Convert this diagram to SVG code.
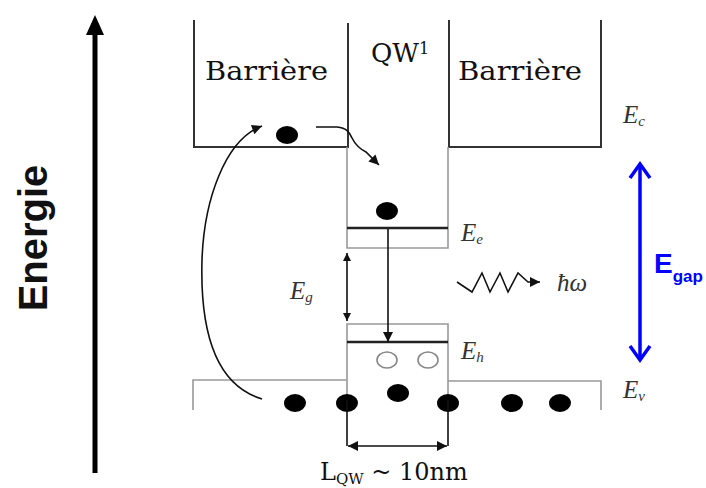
<svg xmlns="http://www.w3.org/2000/svg" width="706" height="488" viewBox="0 0 706 488">
  <style>
    .dark { fill: none; stroke: #333; stroke-width: 2; }
    .gray { fill: none; stroke: #999; stroke-width: 1.6; }
    .lvl { fill: none; stroke: #222; stroke-width: 2.6; }
    .conn { fill: none; stroke: #111; stroke-width: 1.6; }
    .dot { fill: #000; }
    .hole { fill: #fff; stroke: #888; stroke-width: 1.6; }
    .serif { font-family: "DejaVu Serif", "Liberation Serif", serif; fill: #111; }
    .ital { font-family: "Liberation Serif", "DejaVu Serif", serif; font-style: italic; fill: #333; font-size: 25px; }
    .sub { font-size: 15px; }
  </style>
  <defs>
    <marker id="ah" viewBox="0 0 10 10" refX="10" refY="5" markerWidth="11" markerHeight="10" markerUnits="userSpaceOnUse" orient="auto-start-reverse">
      <path d="M0,0 L10,5 L0,10 z" fill="#111"/>
    </marker>
    <marker id="ahs" viewBox="0 0 10 10" refX="10" refY="5" markerWidth="9" markerHeight="8" markerUnits="userSpaceOnUse" orient="auto-start-reverse">
      <path d="M0,0 L10,5 L0,10 z" fill="#111"/>
    </marker>
  </defs>
  <rect width="706" height="488" fill="#fff"/>

  <!-- Energy axis -->
  <g id="energy-axis">
    <line x1="95" y1="473" x2="95" y2="32" stroke="#000" stroke-width="5"/>
    <polygon points="95,15 86,35 104,35" fill="#000"/>
    <text transform="translate(47,238) rotate(-90)" text-anchor="middle" font-family="Liberation Sans, Arial, sans-serif" font-weight="bold" font-size="40" fill="#111">Energie</text>
  </g>

  <!-- Left barrier -->
  <g id="barrier-left">
    <polyline class="dark" points="194,20 194,147 348,147 348,23"/>
    <text class="serif" x="205" y="80" font-size="26" textLength="123" lengthAdjust="spacingAndGlyphs">Barrière</text>
  </g>

  <!-- Right barrier -->
  <g id="barrier-right">
    <polyline class="dark" points="449,20 449,147 601,147 601,20"/>
    <text class="serif" x="458" y="80" font-size="26" textLength="124" lengthAdjust="spacingAndGlyphs">Barrière</text>
  </g>

  <!-- Quantum well -->
  <g id="well">
    <text class="serif" x="371" y="62" font-size="26">QW<tspan font-size="16" dy="-8">1</tspan></text>
    <polyline class="gray" points="347,147 347,248 448,248 448,147"/>
    <line class="lvl" x1="347" y1="228" x2="448" y2="228"/>
    <polyline class="gray" points="347,400 347,324 448,324 448,400"/>
    <line class="lvl" x1="347" y1="342" x2="448" y2="342"/>
  </g>

  <!-- Valence band -->
  <g id="valence">
    <polyline class="gray" points="193,410 193,380 347,380"/>
    <polyline class="gray" points="448,381 601,381 601,410"/>
  </g>

  <!-- Carriers -->
  <g id="carriers">
    <ellipse class="dot" cx="287" cy="135" rx="11" ry="9"/>
    <ellipse class="dot" cx="387" cy="211" rx="11" ry="9"/>
    <ellipse class="hole" cx="387" cy="360" rx="10" ry="8"/>
    <ellipse class="hole" cx="428" cy="360" rx="10" ry="8"/>
    <ellipse class="dot" cx="295" cy="403" rx="11" ry="9"/>
    <ellipse class="dot" cx="347" cy="403" rx="11" ry="9"/>
    <ellipse class="dot" cx="398" cy="393" rx="11" ry="9"/>
    <ellipse class="dot" cx="448" cy="403" rx="11" ry="9"/>
    <ellipse class="dot" cx="512" cy="403" rx="11" ry="9"/>
    <ellipse class="dot" cx="560" cy="403" rx="11" ry="9"/>
  </g>

  <!-- Connectors -->
  <g id="connectors">
    <path class="conn" d="M262,399 C215,385 200,330 202,260 C204,200 225,140 262,126" marker-end="url(#ah)"/>
    <path class="conn" d="M316,127 L337,127 C348,128 350,134 352,138 C356,146 362,150 366,152 L379,165" marker-end="url(#ah)"/>
    <line class="conn" x1="388" y1="229" x2="388" y2="342" marker-end="url(#ah)"/>
    <line class="conn" x1="347" y1="253" x2="347" y2="321" marker-start="url(#ahs)" marker-end="url(#ahs)"/>
    <polyline class="conn" stroke-width="1.8" points="347,400 347,446"/>
    <polyline class="conn" stroke-width="1.8" points="448,400 448,446"/>
    <line class="conn" stroke-width="2" x1="348" y1="446" x2="447" y2="446" marker-start="url(#ah)" marker-end="url(#ah)"/>
    <polyline class="conn" stroke-width="2" points="457,282 472,292 482,273 490,292 500,273 508,292 518,273 528,282 540,282" marker-end="url(#ah)"/>
    <line x1="640" y1="165" x2="640" y2="359" stroke="#0000ff" stroke-width="3.5"/>
    <polyline points="630,178 640,164 650,178" fill="none" stroke="#0000ff" stroke-width="3.5"/>
    <polyline points="630,346 640,360 650,346" fill="none" stroke="#0000ff" stroke-width="3.5"/>
  </g>

  <!-- Labels -->
  <g id="labels">
    <text class="ital" x="623" y="123">E<tspan class="sub" dy="3">c</tspan></text>
    <text class="ital" x="461" y="241">E<tspan class="sub" dy="3">e</tspan></text>
    <text class="ital" x="461" y="359">E<tspan class="sub" dy="3">h</tspan></text>
    <text class="ital" x="623" y="398">E<tspan class="sub" dy="3">v</tspan></text>
    <text class="ital" x="290" y="299">E<tspan class="sub" dy="3">g</tspan></text>
    <text class="ital" x="557" y="291" fill="#555">ħω</text>
    <text x="654" y="273" font-family="Liberation Sans, Arial, sans-serif" font-weight="bold" font-size="28" fill="#0000ff">E<tspan font-size="17" dy="9">gap</tspan></text>
    <text class="serif" x="320" y="480" font-size="24">L<tspan font-size="15" dy="4">QW</tspan><tspan dy="-4"> ~ 10nm</tspan></text>
  </g>
</svg>
